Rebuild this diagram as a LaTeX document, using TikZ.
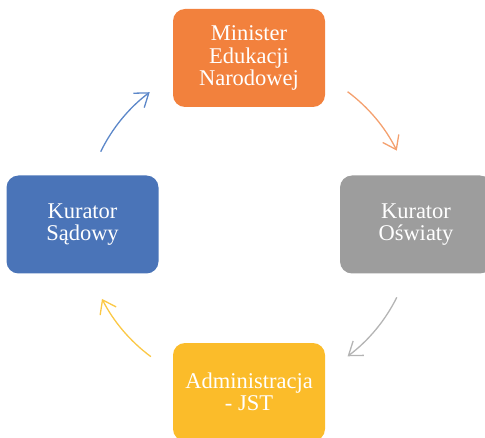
\documentclass[tikz,border=0pt]{standalone}
\usepackage{fontspec}
\setmainfont{Liberation Serif}
\usetikzlibrary{arrows.meta,calc}
\definecolor{cOrange}{HTML}{F2813D}
\definecolor{cBlue}{HTML}{4A74B8}
\definecolor{cGray}{HTML}{9D9D9D}
\definecolor{cYellow}{HTML}{FBBC2A}
\definecolor{aOrange}{HTML}{F4A06E}
\definecolor{aBlue}{HTML}{5C87C9}
\definecolor{aGray}{HTML}{B4B4B4}
\definecolor{aYellow}{HTML}{FBC845}
\tikzset{
  box/.style={rounded corners=12pt, minimum width=152pt, minimum height=98pt,
    inner sep=0pt, text=white, align=center,
    font=\fontsize{22.5}{22.5}\selectfont},
  cyc/.style={line width=1.3pt, -{Straight Barb[length=12.5pt,width=18pt,line width=1.3pt]}}
}
\begin{document}
\begin{tikzpicture}[x=1pt,y=1pt]
\useasboundingbox (0,0) rectangle (485,437);
\clip (0,0) rectangle (485,437);
\node[box, fill=cOrange] (mne) at (249,379) {Minister\\Edukacji\\Narodowej};
\node[box, fill=cGray] (ko) at (416,212.5) {Kurator\\Oświaty};
\node[box, fill=cYellow] (adm) at (249,45) {Administracja\\- JST};
\node[box, fill=cBlue] (ks) at (82.5,212.5) {Kurator\\Sądowy};
\coordinate (c) at (249,213);
\coordinate (s1) at ($(c)+(53.3:165)$);
\coordinate (s2) at ($(c)+(-26.4:165)$);
\coordinate (s3) at ($(c)+(233.5:165)$);
\coordinate (s4) at ($(c)+(154:165)$);
\draw[cyc, aOrange] (s1) arc[start angle=53.3, end angle=26.4, radius=165];
\draw[cyc, aGray] (s2) arc[start angle=-26.4, end angle=-53.3, radius=165];
\draw[cyc, aYellow] (s3) arc[start angle=233.5, end angle=207, radius=165];
\draw[cyc, aBlue] (s4) arc[start angle=154, end angle=127, radius=165];
\end{tikzpicture}
\end{document}
